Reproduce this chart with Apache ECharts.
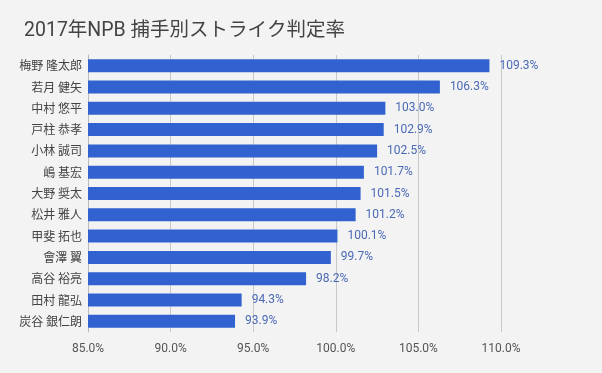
<!DOCTYPE html>
<html><head><meta charset="utf-8">
<script src="https://cdn.jsdelivr.net/npm/echarts@6/dist/echarts.min.js"></script>
<style>html,body{margin:0;padding:0;background:#f3f3f3;}#c{width:602px;height:373px;}</style>
</head><body><div id="c"></div>
<script>
const catchers = ['梅野 隆太郎','若月 健矢','中村 悠平','戸柱 恭孝','小林 誠司','嶋 基宏','大野 奨太','松井 雅人','甲斐 拓也','會澤 翼','高谷 裕亮','田村 龍弘','炭谷 銀仁朗'];
const strikeRate = [109.3,106.3,103.0,102.9,102.5,101.7,101.5,101.2,100.1,99.7,98.2,94.3,93.9];
const xTicks = [85,90,95,100,105,110];
const chart = echarts.init(document.getElementById('c'));
chart.setOption({
  backgroundColor:'#f3f3f3',
  animation:false,
  title:{text:'2017年NPB 捕手別ストライク判定率',left:19,top:16,textStyle:{fontFamily:'Roboto, "Noto Sans CJK JP"',fontSize:19.5,fontWeight:'normal',color:'#444'}},
  grid:{left:88,right:101,top:55,bottom:41},
  xAxis:{type:'value',min:xTicks[0],max:xTicks[xTicks.length-1],interval:5,
    axisLine:{show:false},axisTick:{show:false},
    splitLine:{lineStyle:{color:'#c8c8c8'}},
    axisLabel:{formatter:v=>v.toFixed(1)+'%',color:'#555',fontSize:12,fontFamily:'Roboto',margin:11}},
  yAxis:{type:'category',data:catchers,inverse:true,
    axisLine:{lineStyle:{color:'#bbb'}},axisTick:{show:false},
    axisLabel:{color:'#444',fontSize:12,fontFamily:'"Noto Sans CJK JP"',margin:6}},
  series:[{type:'bar',data:strikeRate,barWidth:13,
    itemStyle:{color:'#3162cf'},
    label:{show:true,position:'right',distance:10,formatter:p=>p.value.toFixed(1)+'%',color:'#4a69b5',fontSize:12,fontFamily:'Roboto'}}]
});
</script></body></html>
